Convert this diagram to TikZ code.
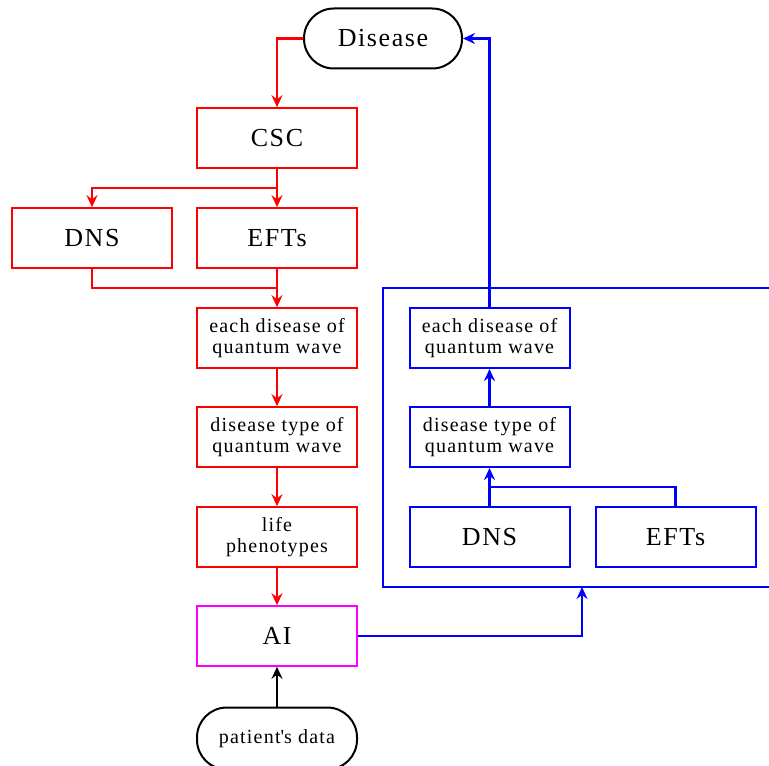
\documentclass[tikz,border=0pt]{standalone}
\usepackage{fontspec}
\setmainfont{Liberation Serif}[LetterSpace=6]
\usetikzlibrary{arrows.meta}
\definecolor{rd}{RGB}{255,0,0}
\definecolor{bl}{RGB}{0,0,255}
\definecolor{mg}{RGB}{255,0,255}
\begin{document}
\begin{tikzpicture}[x=0.5pt,y=-0.5pt,
  big/.style={font=\fontsize{13}{15}\selectfont},
  small/.style={font=\fontsize{10}{10.5}\selectfont},
  basebox/.style={minimum width=80pt, minimum height=30pt, inner sep=0pt, align=center},
  rbox/.style={basebox, draw=rd, line width=0.8pt},
  bbox/.style={basebox, draw=bl, line width=1pt},
  mbox/.style={basebox, draw=mg, line width=0.8pt},
  pill/.style={basebox, draw=black, line width=1pt, rounded corners=14.9pt, minimum width=79pt},
  tip/.style={-{Stealth[length=6pt,width=5.5pt,inset=2pt]}},
  rarr/.style={draw=rd, line width=1.2pt, tip},
  rline/.style={draw=rd, line width=1.2pt},
  barr/.style={draw=bl, line width=1.1pt, tip},
  bline/.style={draw=bl, line width=1.1pt},
  karr/.style={draw=black, line width=1.3pt, tip}
]
\useasboundingbox (0,0) rectangle (769,765);
% left column
\node[pill,big] (disease) at (383,38.5) {Disease};
\node[rbox,big] (csc) at (277,138) {CSC};
\node[rbox,big] (dns) at (92,238) {DNS};
\node[rbox,big] (efts) at (277,238) {EFTs};
\node[rbox,small] (each) at (277,338) {each disease of\\quantum wave};
\node[rbox,small] (type) at (277,437) {disease type of\\quantum wave};
\node[rbox,small] (life) at (277,537) {life\\phenotypes};
\node[mbox,big] (ai) at (277,636) {AI};
\node[pill,small,minimum width=80pt,minimum height=31pt] (pat) at (277,738.5) {patient\textquotesingle s data};
% right frame
\node[draw=bl, line width=1.1pt, minimum width=194.5pt, minimum height=149.5pt, inner sep=0pt] (frame) at (577.5,437.5) {};
\node[bbox,small] (beach) at (489.5,338) {each disease of\\quantum wave};
\node[bbox,small] (btype) at (489.5,437) {disease type of\\quantum wave};
\node[bbox,big] (bdns) at (489.5,537) {DNS};
\node[bbox,big] (befts) at (675.5,537) {EFTs};
% coordinates
\coordinate (split) at (277,188);
\coordinate (merge) at (277,288);
\coordinate (bjoin) at (489.5,487);
\coordinate (fin) at (582,587);
% red connectors
\draw[rarr] (disease.west) -| (csc.north);
\draw[rarr] (csc.south) -- (efts.north);
\draw[rarr] (split) -| (dns.north);
\draw[rline] (dns.south) |- (merge);
\draw[rarr] (efts.south) -- (each.north);
\draw[rarr] (each.south) -- (type.north);
\draw[rarr] (type.south) -- (life.north);
\draw[rarr] (life.south) -- (ai.north);
% black
\draw[karr] (pat.north) -- (ai.south);
% blue
\draw[barr, line width=0.8pt] (ai.east) -| (fin);
\draw[barr] (beach.north) |- (disease.east);
\draw[barr] (btype.north) -- (beach.south);
\draw[barr] (bdns.north) -- (btype.south);
\draw[bline] (befts.north) |- (bjoin);
\end{tikzpicture}
\end{document}
